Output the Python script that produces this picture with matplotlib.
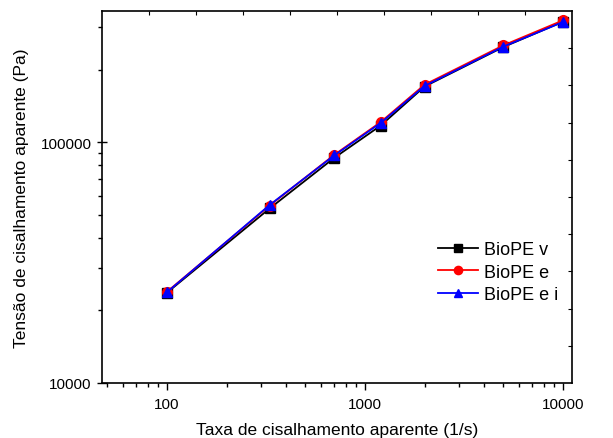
import matplotlib
matplotlib.use('Agg')
import matplotlib.pyplot as plt
import numpy as np
from matplotlib.ticker import FixedLocator, FuncFormatter, LogLocator, NullFormatter

plt.rcParams['font.family'] = ['Liberation Sans', 'DejaVu Sans']

# shear rate (1/s) and apparent shear stress (Pa)
rate = [100, 330, 700, 1200, 2000, 5000, 10000]
stress_v = [23700, 53000, 86000, 117000, 170000, 248000, 316000]
stress_e = [23900, 54500, 88500, 121000, 173000, 252000, 320000]
stress_ei = [23800, 54800, 88000, 120000, 171000, 249000, 315000]

fig = plt.figure(figsize=(6.13, 4.39), dpi=100)
ax = fig.add_axes([0.1664, 0.1253, 0.7666, 0.8474])

ax.plot(rate, stress_v, '-s', color='black', lw=1.3, ms=6.5, label='BioPE v')
ax.plot(rate, stress_e, '-o', color='red', lw=1.3, ms=7, label='BioPE e')
ax.plot(rate, stress_ei, '-^', color='blue', lw=1.3, ms=7.5, label='BioPE e i')

ax.set_xscale('log')
ax.set_yscale('log')
ax.set_xlim(47, 11100)
ax.set_ylim(10000, 350000)

ax.xaxis.set_major_locator(FixedLocator([100, 1000, 10000]))
ax.yaxis.set_major_locator(FixedLocator([10000, 100000]))
ax.xaxis.set_minor_locator(LogLocator(base=10, subs=np.arange(2, 10)))
ax.yaxis.set_minor_locator(LogLocator(base=10, subs=np.arange(2, 10)))
fmt = FuncFormatter(lambda v, p: '%d' % v)
ax.xaxis.set_major_formatter(fmt)
ax.yaxis.set_major_formatter(fmt)
ax.xaxis.set_minor_formatter(NullFormatter())
ax.yaxis.set_minor_formatter(NullFormatter())

ax.tick_params(axis='x', which='major', direction='out', length=5, width=1, labelsize=11, pad=5)
ax.tick_params(axis='x', which='minor', direction='out', length=3, width=1)
ax.tick_params(axis='y', which='major', direction='inout', length=7, width=1, labelsize=11, pad=4)
ax.tick_params(axis='y', which='minor', direction='out', length=3, width=1)
for s in ax.spines.values():
    s.set_linewidth(1.2)

ax.set_xlabel('Taxa de cisalhamento aparente (1/s)', fontsize=12.5, labelpad=8)
ax.set_ylabel('Tensão de cisalhamento aparente (Pa)', fontsize=12.5, labelpad=8)

leg = ax.legend(loc='center left', bbox_to_anchor=(0.715, 0.298), frameon=False,
                fontsize=13, handlelength=2.2, handletextpad=0.35, labelspacing=0.3,
                borderaxespad=0, borderpad=0, markerscale=0.85)

# small inward ticks on the top and right edges
ax2 = fig.add_axes(ax.get_position(), frameon=False)
ax2.set_xlim(0, 1)
ax2.set_ylim(0, 1)
ax2.set_xticks(np.arange(0.1, 1.0, 0.1))
ax2.set_yticks(np.arange(0.1, 1.0, 0.1))
ax2.tick_params(top=True, right=True, bottom=False, left=False,
                labeltop=False, labelright=False, labelbottom=False, labelleft=False,
                direction='in', length=3, width=0.8)
ax2.patch.set_visible(False)

fig.savefig('out.png', dpi=100)
